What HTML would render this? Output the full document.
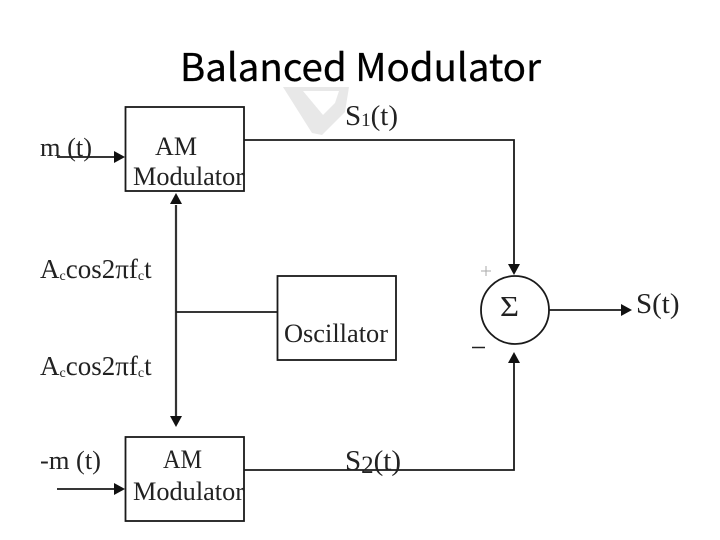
<!DOCTYPE html>
<html><head><meta charset="utf-8"><style>html,body{margin:0;padding:0;background:#fff}svg{display:block}</style></head><body>
<svg width="720" height="540" viewBox="0 0 720 540" xmlns="http://www.w3.org/2000/svg">
<path fill-rule="evenodd" d="M283 87L349 87L345 112L322 135L312 133ZM303 91L323 115L335 103L339 91Z" fill="#e8e8e8"/>
<text x="180" y="81" font-family="Noto Sans CJK SC, Liberation Sans, sans-serif" font-size="38" textLength="361" lengthAdjust="spacingAndGlyphs" fill="#000" stroke="#000" stroke-width="0.300">Balanced Modulator</text>
<g fill="none" stroke="#1a1a1a" stroke-width="1.800">
<rect x="125.500" y="107" width="118.500" height="84"/>
<rect x="125.500" y="437" width="118.500" height="84"/>
<rect x="277.500" y="276" width="118.500" height="84"/>
<circle cx="515" cy="310" r="34"/>
<path d="M244 140H514V265"/>
<path d="M244 470H514V360"/>
<path d="M57 157H116"/>
<path d="M57 489H116"/>
<path d="M176 205V418" stroke-width="2.200" stroke="#333"/>
<path d="M176 312H277"/>
<path d="M549 310H624"/>
</g>
<g fill="#111">
<path d="M125 157L114 151V163Z"/>
<path d="M125 489L114 483V495Z"/>
<path d="M176 193L170 204H182Z"/>
<path d="M176 427L170 416H182Z"/>
<path d="M514 275L508 264H520Z"/>
<path d="M514 352L508 363H520Z"/>
<path d="M632 310L621 304V316Z"/>
</g>
<g font-family="Liberation Serif, serif" fill="#222" font-size="26">
<text x="40" y="156" textLength="52" lengthAdjust="spacingAndGlyphs">m (t)</text>
<text x="40" y="469" textLength="61" lengthAdjust="spacingAndGlyphs">-m (t)</text>
<text x="155" y="155" textLength="42" lengthAdjust="spacingAndGlyphs">AM</text>
<text x="133" y="185" textLength="111" lengthAdjust="spacingAndGlyphs">Modulator</text>
<text x="163" y="468" textLength="39" lengthAdjust="spacingAndGlyphs">AM</text>
<text x="133" y="500" textLength="111" lengthAdjust="spacingAndGlyphs">Modulator</text>
<text x="284" y="342" textLength="104" lengthAdjust="spacingAndGlyphs">Oscillator</text>
<text x="345" y="125" font-size="29">S<tspan font-size="19" dy="1">1</tspan><tspan dy="-1">(t)</tspan></text>
<text x="345" y="470" font-size="29">S<tspan font-size="25" dy="3">2</tspan><tspan dy="-3">(t)</tspan></text>
<text x="636" y="313" font-size="29">S(t)</text>
<text x="40" y="278" font-size="27">A<tspan font-size="14" dy="2">c</tspan><tspan dy="-2">cos2</tspan>π<tspan>f</tspan><tspan font-size="14" dy="2">c</tspan><tspan dy="-2">t</tspan></text>
<text x="40" y="375" font-size="27">A<tspan font-size="14" dy="2">c</tspan><tspan dy="-2">cos2</tspan>π<tspan>f</tspan><tspan font-size="14" dy="2">c</tspan><tspan dy="-2">t</tspan></text>
<text x="500" y="316" font-size="28" font-family="Liberation Serif, serif" textLength="19" lengthAdjust="spacingAndGlyphs">Σ</text>
</g>
<path d="M486 266V276M481 271H491" stroke="#aaa" stroke-width="1" fill="none"/>
<path d="M472 347.500H485" stroke="#222" stroke-width="1.500" fill="none"/>
</svg>
</body></html>
